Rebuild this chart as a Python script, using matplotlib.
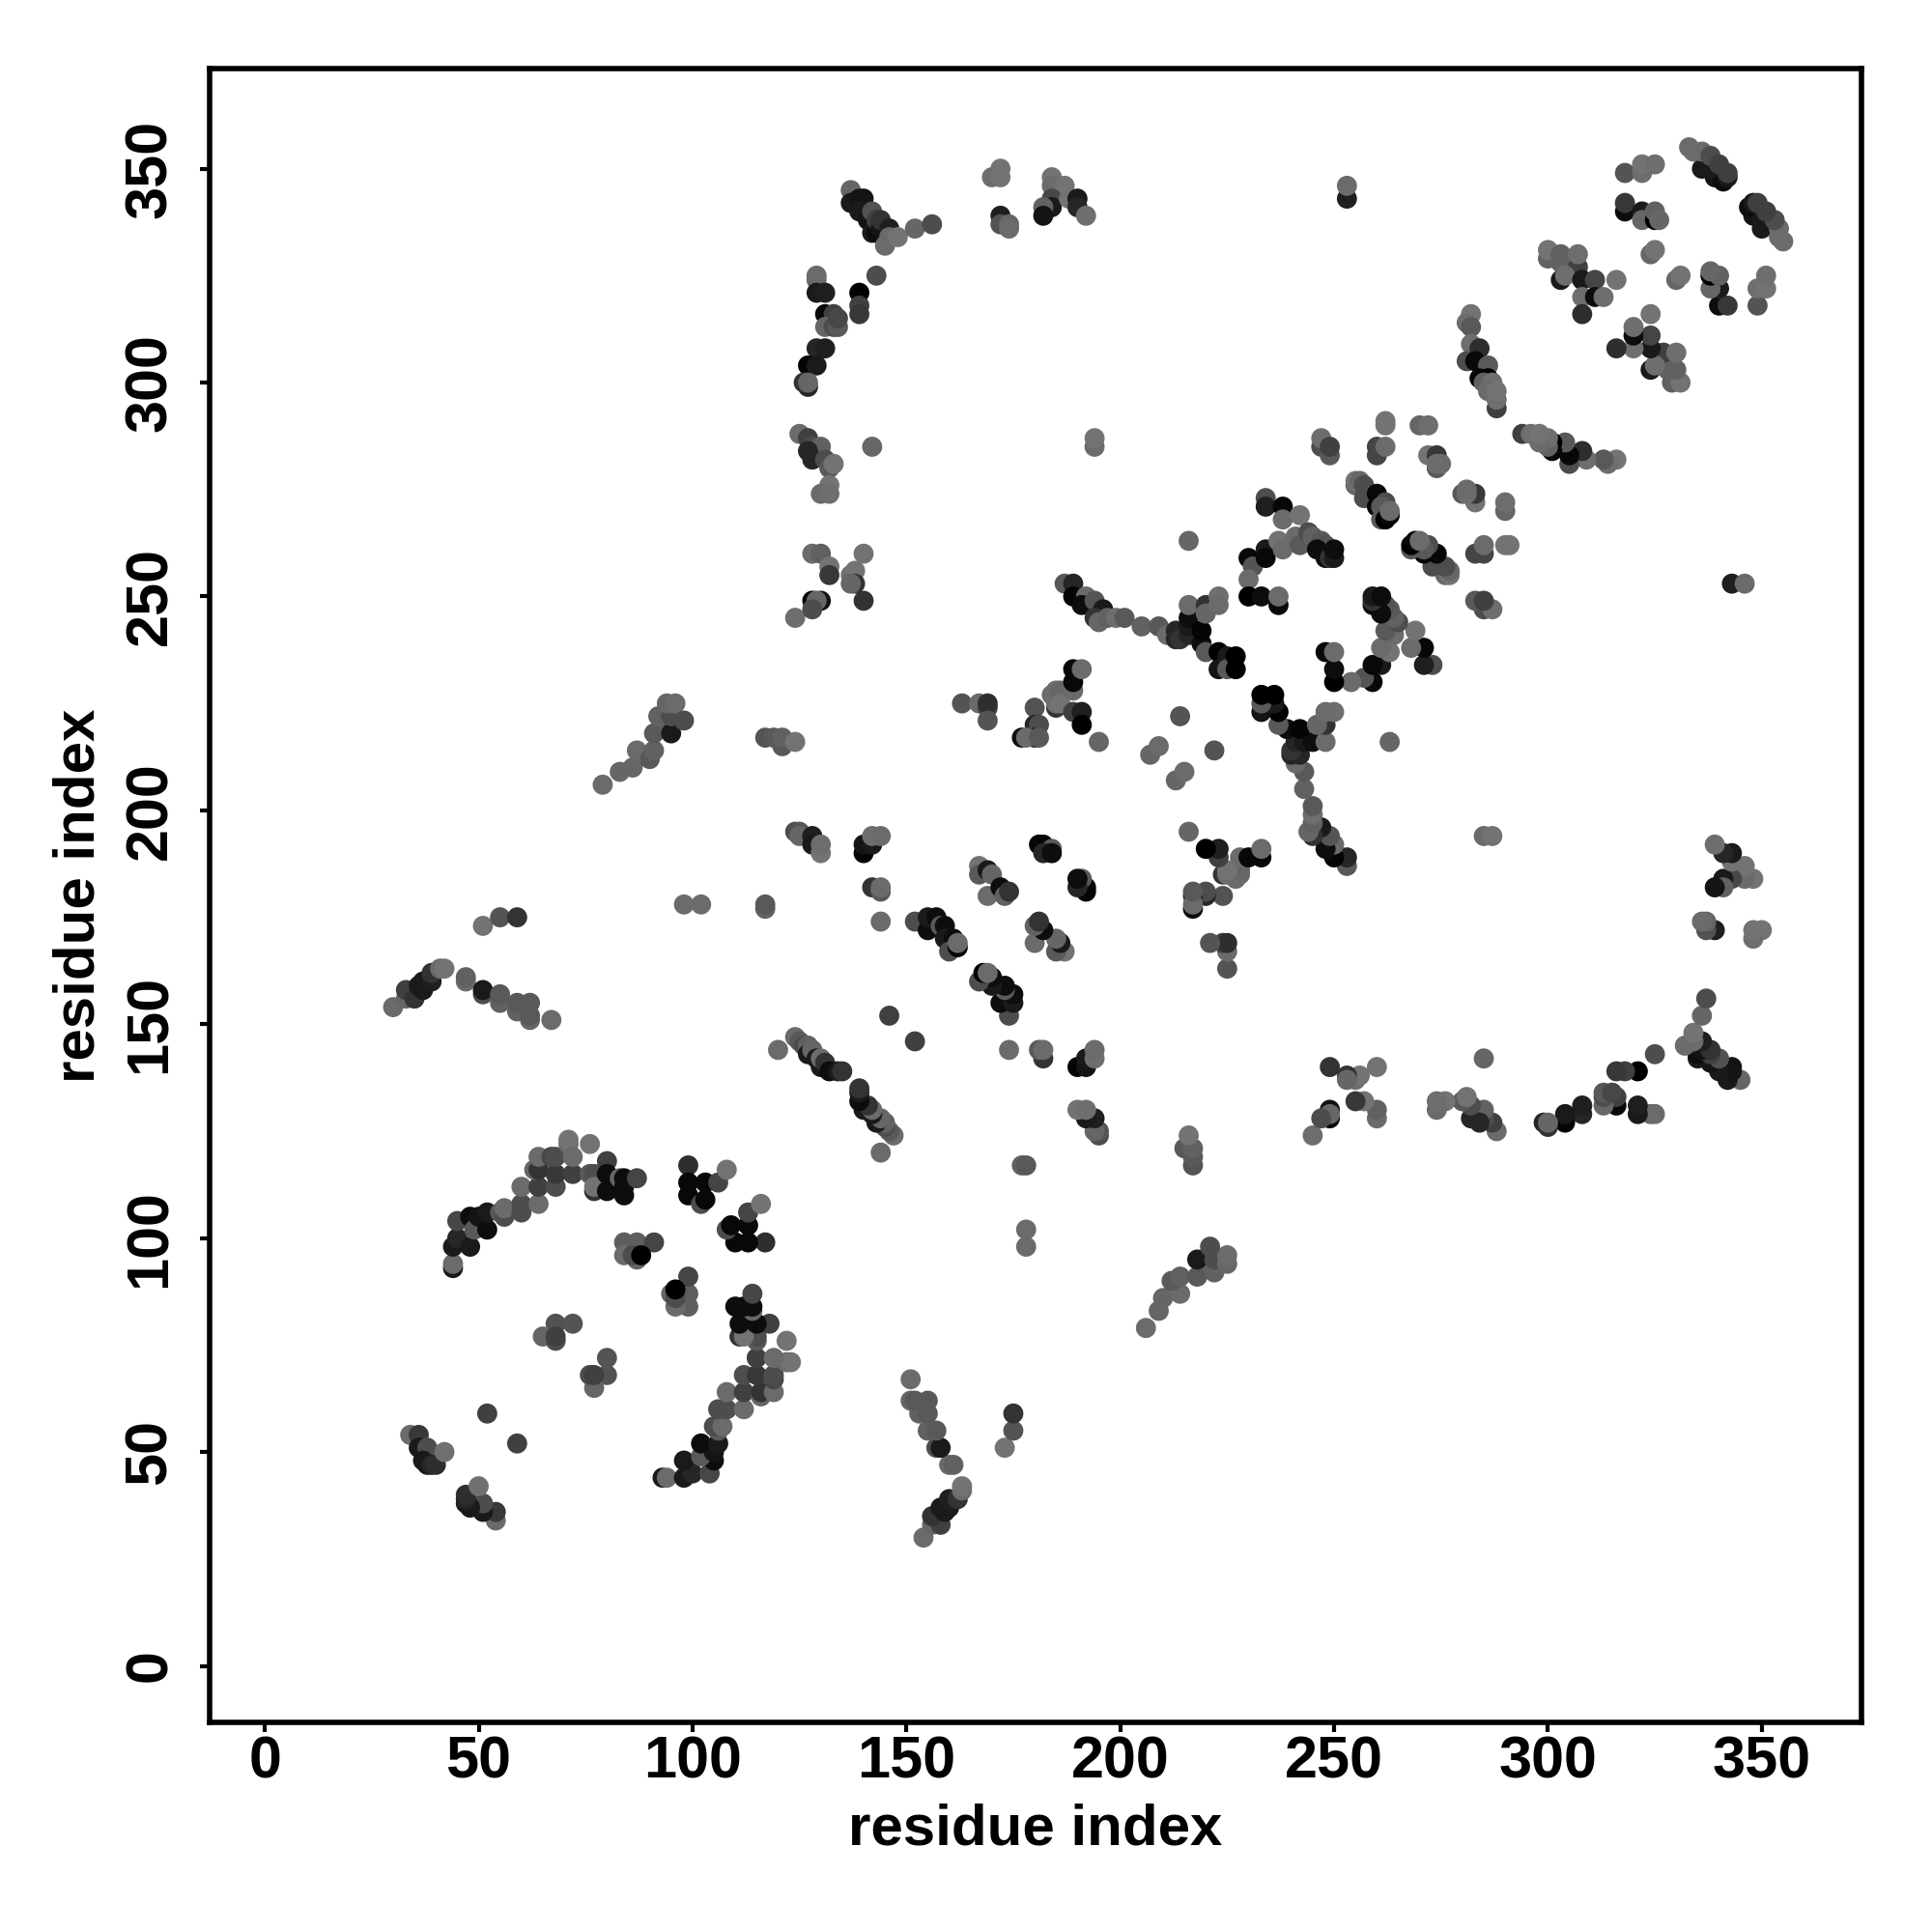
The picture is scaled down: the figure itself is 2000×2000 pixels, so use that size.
import matplotlib
matplotlib.use("Agg")
import matplotlib.pyplot as plt

# contacts (i, j, gray level of the dot), i < j, the map is symmetric
arc_a = [(34,54,.42),(36,54,.22),(36,51,.1),(38,51,.3),(37,48,.1),(38,47,.1),(39,47,.15),(40,47,.18),(42,50,.44),
         (52,59,.25),(44,93,.1),(44,94,.42),(44,98,.1),(45,100,.15),(45,104,.28),(48,98,.1),(48,105,.05),(49,102,.35),
         (50,105,.08),(52,102,.05),(52,106,.1),(55,106,.35),(56,105,.3),(56,107,.42),(60,106,.3),(60,108,.3),(60,112,.42),
         (64,108,.42),(64,112,.25),(63,116,.4),(64,116,.2),(64,119,.42),(68,112,.3),(68,115,.22),(67,119,.28),(68,119,.3),
         (71,122,.42),(71,123,.45),(72,115,.25),(72,119,.42),(76,122,.45),(76,115,.35),(77,111,.2),(77,115,.3),(77,112,.45),
         (80,118,.25),(80,115,.05),(80,111,.05),(83,114,.4),(84,114,.05),(84,112,.05),(84,110,.05),(87,114,.27)]
arc_b = [(99,117,.18),(99,113,.03),(99,110,.03),(102,108,.3),(103,113,.03),(103,109,.03),(106,113,.27),(108,116,.45),
         (84,99,.37),(87,99,.37),(91,99,.27),(84,96,.42),(87,95,.4),(86,96,.3),(88,96,.0),
         (68,80,.32),(72,80,.33),(65,77,.4),(68,76,.3),(68,77,.25)]
top_mid = [(137,345,.4),(137,342,.1),(139,343,.08),(140,343,.08),(139,340,.1),(141,338,.08),(142,340,.32),(142,335,.1),
           (143,335,.05),(143,338,.25),(144,336,.08),(144,338,.2),(146,336,.12),(145,332,.42),(146,334,.42),(148,334,.45),
           (152,336,.4),(156,337,.3),(172,350,.45),(170,348,.43),(172,348,.45),(172,339,.12),(172,337,.32),(174,337,.4),
           (174,336,.42),(184,348,.45),(184,346,.42),(187,346,.45),(184,343,.28),(184,341,.1),(182,341,.38),(182,339,.08),
           (188,343,.45),(190,343,.1),(190,341,.15),(192,339,.43)]
col_130 = [(129,324,.4),(129,325,.42),(129,321,.1),(131,321,.12),(139,321,.0),(139,318,.25),(139,316,.22),(143,325,.3),
           (131,316,.03),(133,316,.25),(131,313,.4),(133,313,.3),(134,313,.35),(134,315,.28),(129,308,.15),(131,308,.12),
           (127,304,.02),(129,304,.1),(127,299,.15),(126,300,.2),(127,300,.4),(125,288,.42),(127,287,.25),(128,285,.3),
           (130,285,.38),(127,284,.15),(128,282,.15),(131,282,.3),(132,280,.35),(133,281,.45),(132,276,.45),(130,274,.42),
           (132,274,.43),(142,285,.4),(194,285,.42),(194,287,.45),(128,260,.42),(130,260,.38),(140,260,.45),(132,257,.45),
           (132,255,.22),(137,255,.43),(138,256,.45),(138,253,.2),(137,253,.4),(128,249,.03),(130,249,.07),(129,249,.4),
           (140,249,.2),(124,245,.43),(128,247,.3),(216,263,.4),(253,343,.12),(253,346,.42)]
strand_240 = [(187,253,.35),(189,253,.15),(189,250,.02),(192,250,.42),(191,248,.05),(194,249,.33),(196,247,.1),(194,245,.2),
              (195,244,.4),(197,245,.38),(199,245,.43),(201,245,.35),(205,243,.38),(209,243,.35),(211,241,.42),(213,240,.15),
              (213,242,.15),(214,240,.2),(216,241,.15),(216,243,.1),(216,245,.05),(216,248,.42),(219,239,.05),(219,242,.02),
              (220,248,.2),(220,246,.4),(223,250,.43),(223,248,.42),(220,237,.35),(223,237,.0),(223,233,.08),(225,236,.1),
              (225,233,.35),(227,236,.0),(227,233,.0)]
ladder = [(230,259,.03),(231,257,.33),(230,254,.42),(230,250,.0),(233,250,.05),(237,248,.03),(237,250,.42),(234,261,.1),
          (234,259,.03),(237,263,.45),(238,261,.42),(234,273,.3),(234,271,.12),(238,271,.03),(238,268,.42),(242,269,.45),
          (241,264,.42),(242,262,.35),(244,265,.3),(245,264,.38),(247,263,.35),(248,262,.33),(246,261,.05),(248,259,.05),
          (249,259,.2),(250,259,.1),(250,261,.05),(247,285,.3),(247,287,.43),(249,283,.35),(249,285,.25),(262,291,.45),
          (262,290,.45),(260,283,.27),(260,285,.27),(262,285,.42),(270,290,.4),(272,290,.43),(272,283,.45),(274,283,.22),
          (274,280,.35),(274,281,.43),(275,281,.42),(255,276,.4),(255,277,.45),(256,277,.4),(257,276,.3),(257,273,.3),
          (260,274,.03),(260,271,.03),(262,272,.3),(261,271,.35),(261,268,.35),(262,268,.0),(263,269,.03),(263,270,.42)]
upper_right = [(282,316,.45),(281,314,.43),(282,313,.35),(282,309,.43),(284,308,.18),(281,305,.3),(283,305,.03),(286,304,.35),
               (284,301,.03),(286,301,.0),(285,300,.38),(287,300,.43),(286,298,.42),(288,294,.25),(288,296,.43),(288,298,.45),
               (300,329,.38),(300,331,.45),(303,328,.38),(303,330,.38),(307,327,.25),(307,330,.43),(303,324,.1),(304,325,.43),
               (308,324,.1),(311,324,.27),(316,324,.45),(308,320,.43),(311,320,.05),(313,320,.43),(308,316,.18),
               (318,349,.33),(322,349,.43),(322,351,.45),(325,351,.43),(318,340,.05),(318,342,.22),(322,340,.1),(322,338,.4),
               (325,338,.0),(325,340,.38),(326,338,.4),(324,330,.4),(325,331,.45),(339,348,.08),(341,347,.05),(342,348,.1),
               (336,350,.1),(338,350,.1),(333,355,.42),(334,354,.42),(336,354,.42),(338,353,.3),(340,351,.25),(342,349,.25)]
mid_cluster = [(214,222,.33),(207,213,.4),(209,215,.42),(163,225,.33),(167,225,.42),(169,224,.25),(169,225,.18),(169,221,.33),
               (180,224,.32),(180,220,.15),(181,220,.3),(180,217,.15),(177,217,.05),(178,217,.42),(181,217,.35),(185,224,.2),
               (185,225,.43),(184,227,.42),(185,228,.42),(186,228,.4),(186,225,.45),(189,228,.42),(189,230,.03),(189,233,.03),
               (191,233,.42),(189,223,.25),(191,223,.12),(191,220,.0),(195,216,.4),(117,217,.33),(119,217,.35),(121,215,.35),
               (121,217,.38),(124,216,.45)]
center = [(124,195,.3),(125,195,.33),(125,194,.4),(128,194,.12),(128,192,.1),(130,190,.45),(130,192,.43),(140,190,.02),
          (140,192,.08),(142,192,.1),(142,194,.43),(144,194,.42),(142,182,.2),(144,181,.35),(144,182,.42),(144,174,.42),
          (117,177,.38),(117,178,.35),(167,187,.45),(167,185,.35),(169,186,.1),(170,185,.4),(169,180,.42),(172,182,.05),
          (173,180,.38),(174,181,.2),(181,192,.02),(182,192,.02),(184,191,.35),(182,190,.15),(184,190,.05),(152,174,.3),
          (155,172,.05),(155,175,.1),(157,175,.05),(158,173,.35),(159,173,.05),(159,170,.1),(161,170,.05),(160,167,.3),
          (162,168,.0),(162,169,.42),(146,152,.25)]
strand_140 = [(120,144,.42),(124,147,.42),(125,146,.35),(126,145,.3),(127,145,.38),(127,143,.1),(128,144,.4),(129,142,.1),
              (130,140,.1),(130,142,.42),(131,141,.2),(132,139,.05),(134,139,.1),(135,139,.2)]
left_tail = [(30,154,.42),(33,156,.4),(33,158,.25),(35,156,.2),(36,159,.1),(37,158,.1),(37,160,.1),(39,160,.12),(39,162,.2),
             (41,163,.42),(42,163,.45),(47,160,.42),(47,161,.38),(51,157,.3),(51,158,.1),(55,155,.38),(55,157,.35),(59,153,.38),
             (59,155,.35),(62,151,.4),(62,152,.35),(62,155,.35),(67,151,.42),(51,173,.45),(55,175,.33),(59,175,.2),
             (79,206,.42),(83,209,.4),(86,210,.4),(87,214,.42),(90,212,.35),(91,214,.38),(91,218,.35),(92,222,.38),(94,221,.38),
             (95,218,.1),(95,222,.3),(94,225,.4),(96,225,.42),(98,221,.3),(98,178,.42),(102,178,.42)]

contacts = (arc_a + arc_b + top_mid + col_130 + strand_240 + ladder + upper_right
            + mid_cluster + center + strand_140 + left_tail)

ticks = [0, 50, 100, 150, 200, 250, 300, 350]

plt.rcParams["font.family"] = ["Liberation Sans", "DejaVu Sans"]

fig = plt.figure(figsize=(10, 10), dpi=200, facecolor="white")
ax = fig.add_axes([217 / 2000, 1 - 1783 / 2000, 1710 / 2000, 1712 / 2000])

xs = [c[0] for c in contacts] + [c[1] for c in contacts]
ys = [c[1] for c in contacts] + [c[0] for c in contacts]
grays = [str(c[2]) for c in contacts] * 2
ax.scatter(xs, ys, s=56, c=grays, linewidths=0, zorder=3)

ax.set_xlim(-12.9, 373.3)
ax.set_ylim(-13.2, 373.4)
ax.set_xticks(ticks)
ax.set_yticks(ticks)
ax.tick_params(axis="both", length=3.5, width=1.5, labelsize=22)
ax.tick_params(axis="x", pad=1.5)
ax.tick_params(axis="y", pad=8)
for lab in ax.get_xticklabels():
    lab.set_fontweight("bold")
for lab in ax.get_yticklabels():
    lab.set_fontweight("bold")
    lab.set_rotation(90)
    lab.set_va("center")
for s in ax.spines.values():
    s.set_linewidth(2)

ax.set_xlabel("residue index", fontsize=21.6, fontweight="bold")
ax.set_ylabel("residue index", fontsize=21.6, fontweight="bold")
ax.xaxis.set_label_coords(0.5, -0.049)
ax.yaxis.set_label_coords(-0.063, 0.5)

fig.savefig("out.png", dpi=200, facecolor="white")
plt.close(fig)
